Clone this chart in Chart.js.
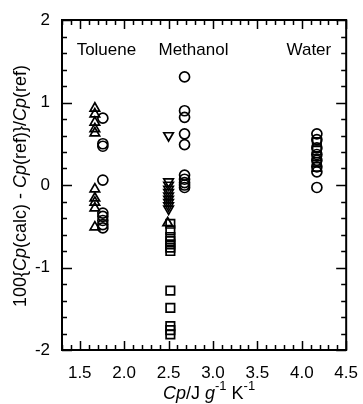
<!DOCTYPE html>
<html><head><meta charset="utf-8">
<script src="https://cdn.jsdelivr.net/npm/chart.js@4.4.1/dist/chart.umd.min.js"></script>
<style>html,body{margin:0;padding:0;background:#fff}#c{display:block}</style>
</head><body>
<canvas id="c" width="363" height="404"></canvas>
<script>
const xTicks = [1.5, 2.0, 2.5, 3.0, 3.5, 4.0, 4.5];
const yTicks = [-2, -1, 0, 1, 2];
const solventNames = ["Toluene", "Methanol", "Water"];
const toluCp = [1.67, 1.76];
const methCp = [2.50, 2.49, 2.52, 2.68];
const waterCp = [4.17, 4.17];
const toluTriangles = [0.93, 0.86, 0.76, 0.68, 0.63, -0.05, -0.16, -0.21, -0.28, -0.51];
const toluCircles = [0.81, 0.50, 0.47, 0.06, -0.34, -0.38, -0.43, -0.48, -0.52];
const methDownTriangles = [0.60, 0.04, 0.0, -0.05, -0.09, -0.13, -0.17, -0.21, -0.25, -0.29];
const methUpTriangles = [-0.46];
const methSquares = [-0.47, -0.55, -0.63, -0.68, -0.72, -0.76, -0.80, -1.28, -1.49, -1.71, -1.76, -1.81];
const methCircles = [1.31, 0.90, 0.82, 0.62, 0.49, 0.12, 0.07, 0.03, 0.0, -0.03];
const waterCircles = [0.62, 0.55, 0.45, 0.37, 0.30, 0.22, 0.16, -0.03];
const waterSquares = [0.52, 0.42, 0.35, 0.28, 0.22];

const pts = (x, arr) => arr.map(v => ({x: x, y: v}));
const radii = { rect: 6, triangle: 5.5, circle: 5 };
const ds = (data, style, rot) => ({
  data, pointStyle: style, rotation: rot || 0,
  pointRadius: radii[style], pointHoverRadius: radii[style],
  borderColor: '#000', backgroundColor: 'rgba(0,0,0,0)', pointBorderWidth: 1.7, showLine: false
});

const FONT = '"Liberation Sans", Arial, sans-serif';

const framePlugin = {
  id: 'frame',
  afterDraw(chart) {
    const ctx = chart.ctx, a = chart.chartArea;
    const xs = chart.scales.x, ys = chart.scales.y;
    ctx.save();
    ctx.strokeStyle = '#000';
    ctx.lineWidth = 1.5;
    ctx.beginPath();
    for (let i = 13; i <= 45; i++) {
      const px = Math.round(xs.getPixelForValue(i / 10)) + 0.5;
      const len = (i % 5 === 0) ? 9 : 5;
      ctx.moveTo(px, a.bottom); ctx.lineTo(px, a.bottom - len);
      ctx.moveTo(px, a.top); ctx.lineTo(px, a.top + len);
    }
    for (let i = -10; i <= 10; i++) {
      const py = Math.round(ys.getPixelForValue(i / 5)) + 0.5;
      const len = (i % 5 === 0) ? 10 : 5;
      ctx.moveTo(a.left, py); ctx.lineTo(a.left + len, py);
      ctx.moveTo(a.right, py); ctx.lineTo(a.right - len, py);
    }
    ctx.stroke();
    ctx.lineWidth = 2;
    ctx.strokeRect(a.left, a.top, a.right - a.left, a.bottom - a.top);
    // solvent labels
    ctx.fillStyle = '#000';
    ctx.font = '17px ' + FONT;
    ctx.textAlign = 'center'; ctx.textBaseline = 'middle';
    const lx = [1.8, 2.78, 4.08];
    solventNames.forEach((n, i) => ctx.fillText(n, xs.getPixelForValue(lx[i]), ys.getPixelForValue(1.63)));
    // axis titles
    const drawRuns = (runs, cx, cy, rot, size) => {
      ctx.save();
      ctx.translate(cx, cy); ctx.rotate(rot);
      const f = r => (r[1] ? 'italic ' : '') + (r[2] ? Math.round(size * 0.7) : size) + 'px ' + FONT;
      let w = 0;
      runs.forEach(r => { ctx.font = f(r); w += ctx.measureText(r[0]).width; });
      let x = -w / 2;
      ctx.textAlign = 'left'; ctx.textBaseline = 'middle';
      runs.forEach(r => {
        ctx.font = f(r);
        ctx.fillText(r[0], x, r[2] ? -size * 0.4 : 0);
        x += ctx.measureText(r[0]).width;
      });
      ctx.restore();
    };
    drawRuns([['100{', 0], ['Cp', 1], ['(calc) - ', 0], ['Cp', 1], ['(ref)}/', 0], ['Cp', 1], ['(ref)', 0]], 21, (a.top + a.bottom) / 2 + 1, -Math.PI / 2, 18);
    drawRuns([['Cp', 1], ['/J ', 0], ['g', 1], ['-1', 0, 1], [' K', 0], ['-1', 0, 1]], (a.left + a.right) / 2 + 5, 394, 0, 18);
    ctx.restore();
  }
};

new Chart(document.getElementById('c'), {
  type: 'scatter',
  data: { datasets: [
    ds(pts(toluCp[0], toluTriangles), 'triangle'),
    ds(pts(toluCp[1], toluCircles), 'circle'),
    ds(pts(methCp[0], methDownTriangles), 'triangle', 180),
    ds(pts(methCp[1], methUpTriangles), 'triangle'),
    ds(pts(methCp[2], methSquares), 'rect'),
    ds(pts(methCp[3], methCircles), 'circle'),
    ds(pts(waterCp[0], waterCircles), 'circle'),
    ds(pts(waterCp[1], waterSquares), 'rect')
  ]},
  options: {
    responsive: false, animation: false, devicePixelRatio: 1,
    layout: { padding: { top: 20, right: 13, left: 0, bottom: 0 } },
    plugins: { legend: { display: false }, tooltip: { enabled: false } },
    scales: {
      x: {
        type: 'linear', min: 1.3, max: 4.5,
        afterBuildTicks: s => { s.ticks = xTicks.map(v => ({value: v})); },
        afterFit: s => { s.height = 54; },
        grid: { display: false }, border: { display: false },
        ticks: { color: '#000', font: { size: 17, family: FONT }, padding: 5, maxRotation: 0,
                 callback: v => Number(v).toFixed(1) }
      },
      y: {
        type: 'linear', min: -2, max: 2,
        afterBuildTicks: s => { s.ticks = yTicks.map(v => ({value: v})); },
        afterFit: s => { s.width = 62; },
        grid: { display: false }, border: { display: false },
        ticks: { color: '#000', font: { size: 17, family: FONT }, padding: 4,
                 callback: v => String(v) }
      }
    }
  },
  plugins: [framePlugin]
});
</script>
</body></html>
